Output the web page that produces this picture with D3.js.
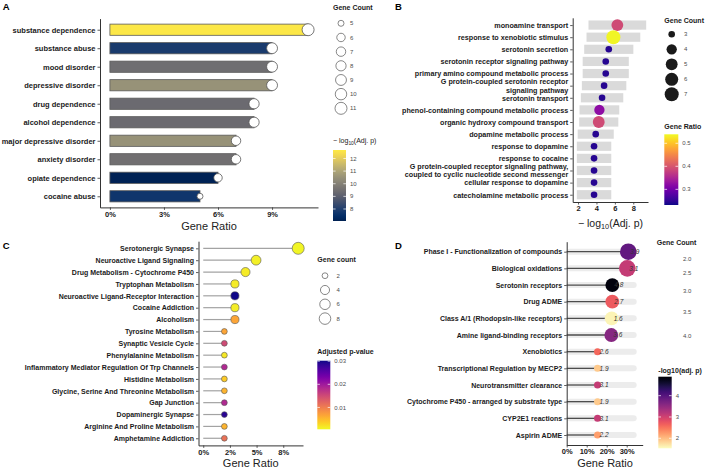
<!DOCTYPE html>
<html>
<head>
<meta charset="utf-8">
<script src="https://cdn.jsdelivr.net/npm/d3@7"></script>
<style>
  body { margin: 0; background: #fff; }
  svg { display: block; font-family: "Liberation Sans", Arial, sans-serif; }
</style>
</head>
<body>
<div id="chart"></div>
<script>
// Panel A - disease enrichment
var aTerms = ["substance dependence", "substance abuse", "mood disorder", "depressive disorder",
  "drug dependence", "alcohol dependence", "major depressive disorder", "anxiety disorder",
  "opiate dependence", "cocaine abuse"];
var aRatio = [0.11, 0.09, 0.09, 0.09, 0.08, 0.08, 0.07, 0.07, 0.06, 0.05];
var aCount = [11, 9, 9, 9, 8, 8, 7, 7, 6, 5];
var aLogP = [12.6, 7.9, 9.45, 10.5, 9.35, 9.35, 10.5, 9.5, 7.1, 7.7];
var aLogPRange = [7.05, 12.67];
var aRatioTicks = [0, 0.03, 0.06, 0.09];
var aCountKeys = [5, 6, 7, 8, 9, 10, 11];
var aLogPTicks = [8, 9, 10, 11, 12];

// Panel B - GO biological process
var bTerms = ["monoamine transport", "response to xenobiotic stimulus", "serotonin secretion",
  "serotonin receptor signaling pathway", "primary amino compound metabolic process",
  "G protein-coupled serotonin receptor\nsignaling pathway", "serotonin transport",
  "phenol-containing compound metabolic process", "organic hydroxy compound transport",
  "dopamine metabolic process", "response to dopamine", "response to cocaine",
  "G protein-coupled receptor signaling pathway,\ncoupled to cyclic nucleotide second messenger",
  "cellular response to dopamine", "catecholamine metabolic process"];
var bLogP = [6.27, 5.84, 5.34, 5.01, 5.01, 4.83, 4.61, 4.32, 4.25, 3.92, 3.74, 3.74, 3.74, 3.74, 3.74];
var bCount = [5, 7, 3, 3, 3, 3, 3, 4, 5, 3, 3, 3, 3, 3, 3];
var bRatio = [0.39, 0.536, 0.245, 0.245, 0.245, 0.245, 0.245, 0.323, 0.39, 0.245, 0.245, 0.245, 0.245, 0.245, 0.245];
var bRatioRange = [0.232, 0.539];
var bLogPTicks = [2, 4, 6, 8];
var bCountKeys = [3, 4, 5, 6, 7];
var bRatioTicks = [0.3, 0.4, 0.5];

// Panel C - KEGG pathways
var cTerms = ["Serotonergic Synapse", "Neuroactive Ligand Signaling", "Drug Metabolism - Cytochrome P450",
  "Tryptophan Metabolism", "Neuroactive Ligand-Receptor Interaction", "Cocaine Addiction", "Alcoholism",
  "Tyrosine Metabolism", "Synaptic Vesicle Cycle", "Phenylalanine Metabolism",
  "Inflammatory Mediator Regulation Of Trp Channels", "Histidine Metabolism",
  "Glycine, Serine And Threonine Metabolism", "Gap Junction", "Dopaminergic Synapse",
  "Arginine And Proline Metabolism", "Amphetamine Addiction"];
var cCount = [9, 5, 4, 3, 3, 3, 3, 2, 2, 2, 2, 2, 2, 2, 2, 2, 2];
var cRatio = [0.089, 0.0495, 0.0396, 0.0297, 0.0297, 0.0297, 0.0297, 0.0198, 0.0198, 0.0198,
  0.0198, 0.0198, 0.0198, 0.0198, 0.0198, 0.0198, 0.0198];
var cPadj = [0.0008, 0.0012, 0.0015, 0.0016, 0.0300, 0.0014, 0.0066, 0.0066, 0.0150, 0.0018,
  0.0185, 0.0037, 0.0055, 0.0185, 0.0288, 0.0055, 0.0110];
var cPRange = [0.00056, 0.0302];
var cRatioTicks = [0, 0.025, 0.05, 0.075];
var cRatioLabels = ["0%", "2%", "5%", "8%"];
var cCountKeys = [2, 4, 6, 8];
var cPTicks = [0.01, 0.02, 0.03];

// Panel D - Reactome pathways
var dTerms = ["Phase I - Functionalization of compounds", "Biological oxidations", "Serotonin receptors",
  "Drug ADME", "Class A/1 (Rhodopsin-like receptors)", "Amine ligand-binding receptors", "Xenobiotics",
  "Transcriptional Regulation by MECP2", "Neurotransmitter clearance",
  "Cytochrome P450 - arranged by substrate type", "CYP2E1 reactions", "Aspirin ADME"];
var dCount = [4, 4, 3, 3, 3, 3, 2, 2, 2, 2, 2, 2];
var dRatio = [0.308, 0.303, 0.228, 0.228, 0.225, 0.223, 0.154, 0.154, 0.154, 0.154, 0.154, 0.154];
var dLogP = [3.9, 3.1, 4.8, 2.7, 1.6, 3.6, 2.6, 1.9, 3.1, 1.9, 3.1, 2.2];
var dLogPRange = [1.53, 4.89];
var dTrack = 0.35;
var dRatioTicks = [0, 0.1, 0.2, 0.3];
var dCountKeys = [2.0, 2.5, 3.0, 3.5, 4.0];
var dLogPTicks = [2, 3, 4];

var svg = d3.select("#chart").append("svg").attr("width", 708).attr("height", 469);
var defs = svg.append("defs");
svg.append("rect").attr("width", 708).attr("height", 469).attr("fill", "#fff");

// ggplot style size scale: radius grows with sqrt of rescaled value
function sizeScale(dom, rng) {
  var t = d3.scaleLinear().domain(dom).range([0, 1]).clamp(true);
  return function(v) { return rng[0] + (rng[1] - rng[0]) * Math.sqrt(t(v)); };
}

function styleAxis(g, size) {
  g.select(".domain").attr("stroke", "#333").attr("stroke-width", 1);
  g.selectAll(".tick line").attr("stroke", "#333").attr("stroke-width", 0.8);
  g.selectAll(".tick text").attr("fill", "#1a1a1a").attr("font-weight", "bold")
    .attr("font-size", size).attr("font-family", null);
}

function splitLabels(g, size) {
  g.selectAll(".tick text").each(function(d) {
    var lines = d.split("\n");
    if (lines.length < 2) return;
    var t = d3.select(this).text(null).attr("dy", null);
    var x = t.attr("x");
    lines.forEach(function(line, i) {
      t.append("tspan").attr("x", x).attr("dy", i === 0 ? "-0.26em" : "1.14em").text(line);
    });
  });
}

function colorbar(id, x, y, w, h, color, domain, ticks, fmt) {
  var grad = defs.append("linearGradient").attr("id", id)
    .attr("x1", 0).attr("y1", 1).attr("x2", 0).attr("y2", 0);
  grad.selectAll("stop").data(d3.range(31)).join("stop")
    .attr("offset", d => d / 30)
    .attr("stop-color", d => color(domain[0] + (domain[1] - domain[0]) * d / 30));
  svg.append("rect").attr("x", x).attr("y", y).attr("width", w).attr("height", h)
    .attr("fill", "url(#" + id + ")");
  var s = d3.scaleLinear().domain(domain).range([y + h, y]);
  var g = svg.append("g");
  g.selectAll("line.tl").data(ticks).join("line")
    .attr("x1", x).attr("x2", x + w * 0.2).attr("y1", d => s(d)).attr("y2", d => s(d))
    .attr("stroke", "#fff").attr("stroke-width", 0.7);
  g.selectAll("line.tr").data(ticks).join("line")
    .attr("x1", x + w * 0.8).attr("x2", x + w).attr("y1", d => s(d)).attr("y2", d => s(d))
    .attr("stroke", "#fff").attr("stroke-width", 0.7);
  g.selectAll("text").data(ticks).join("text")
    .attr("x", x + w + 4).attr("y", d => s(d)).attr("dy", "0.35em")
    .attr("font-size", "6px").attr("fill", "#4d4d4d").text(fmt);
}

function legendTitle(x, y, txt, bold) {
  return svg.append("text").attr("x", x).attr("y", y).attr("font-size", "7px")
    .attr("font-weight", bold ? "bold" : "normal").attr("fill", "#1a1a1a").text(txt);
}

function logTitle(sel, size, pre, post) {
  sel.append("tspan").text(pre + "log");
  sel.append("tspan").attr("font-size", size * 0.7).attr("dy", size * 0.25).text("10");
  sel.append("tspan").attr("dy", -size * 0.25).text(post);
}

function panelLetter(x, y, l) {
  svg.append("text").attr("x", x).attr("y", y).attr("font-size", "9.5px")
    .attr("font-weight", "bold").text(l);
}

// ==============================
// Panel A
// ==============================
var aX = d3.scaleLinear().domain([-0.0055, 0.1155]).range([100, 318]);
var aY = d3.scalePoint().domain(aTerms).range([18.6, 207.4]).padding(0.6);
var aColor = d3.scaleSequential(d3.interpolateCividis).domain(aLogPRange);
var aSize = sizeScale(d3.extent(aCount), [3, 6]);
var gA = svg.append("g");

gA.selectAll("rect").data(aTerms).join("rect")
  .attr("x", aX(0)).attr("y", d => aY(d) - 5.6)
  .attr("width", (d, i) => aX(aRatio[i]) - aX(0)).attr("height", 11.2)
  .attr("fill", (d, i) => aColor(aLogP[i]))
  .attr("stroke", "#5a5a5a").attr("stroke-width", 0.8);

gA.selectAll("circle").data(aTerms).join("circle")
  .attr("cx", (d, i) => aX(aRatio[i])).attr("cy", d => aY(d))
  .attr("r", (d, i) => aSize(aCount[i]))
  .attr("fill", "#fff").attr("stroke", "#555").attr("stroke-width", 0.8);

gA.append("g").attr("transform", "translate(100,0)")
  .call(d3.axisLeft(aY).tickSize(2.5).tickPadding(2).tickSizeOuter(0))
  .call(styleAxis, "7.5px");
gA.append("g").attr("transform", "translate(0,207.4)")
  .call(d3.axisBottom(aX).tickValues(aRatioTicks).tickFormat(d3.format(".0%"))
    .tickSize(2.5).tickPadding(1.5).tickSizeOuter(0))
  .call(styleAxis, "7.5px");
gA.append("text").attr("x", 209).attr("y", 230).attr("text-anchor", "middle")
  .attr("font-size", "11px").attr("fill", "#222").text("Gene Ratio");

legendTitle(333, 9.5, "Gene Count", true);
svg.append("g").selectAll("circle").data(aCountKeys).join("circle")
  .attr("cx", 341).attr("cy", (d, i) => 23.3 + i * 14.17).attr("r", d => aSize(d))
  .attr("fill", "#fff").attr("stroke", "#555").attr("stroke-width", 0.7);
svg.append("g").selectAll("text").data(aCountKeys).join("text")
  .attr("x", 350).attr("y", (d, i) => 23.3 + i * 14.17).attr("dy", "0.35em")
  .attr("font-size", "6px").attr("fill", "#4d4d4d").text(d => d);
logTitle(legendTitle(333, 143, "", false), 7, "\u2212 ", "(Adj. p)");
colorbar("gradA", 333, 150, 13, 71, aColor, aLogPRange, aLogPTicks, d => d);

// ==============================
// Panel B
// ==============================
var bX = d3.scaleLinear().domain([1.42, 9.6]).range([572.7, 648]);
var bY = d3.scalePoint().domain(bTerms).range([17.8, 202]).padding(0.6);
var bColor = d3.scaleSequential(d3.interpolatePlasma).domain(bRatioRange);
var bSize = sizeScale(d3.extent(bCount), [3.3, 7]);
var gB = svg.append("g");

gB.selectAll("rect").data(bTerms).join("rect")
  .attr("x", (d, i) => bX(bLogP[i] * 0.5)).attr("y", d => bY(d) - 4.6)
  .attr("width", (d, i) => bX(bLogP[i] * 1.5) - bX(bLogP[i] * 0.5)).attr("height", 9.2)
  .attr("fill", "#dadada");
gB.selectAll("circle").data(bTerms).join("circle")
  .attr("cx", (d, i) => bX(bLogP[i])).attr("cy", d => bY(d))
  .attr("r", (d, i) => bSize(bCount[i]))
  .attr("fill", (d, i) => bColor(bRatio[i]));

gB.append("g").attr("transform", "translate(572.7,0)")
  .call(d3.axisLeft(bY).tickSize(2.5).tickPadding(2).tickSizeOuter(0))
  .call(styleAxis, "7.2px").call(splitLabels);
gB.append("g").attr("transform", "translate(0,202)")
  .call(d3.axisBottom(bX).tickValues(bLogPTicks).tickSize(2.5).tickPadding(1.5).tickSizeOuter(0))
  .call(styleAxis, "7.5px");
logTitle(gB.append("text").attr("x", 610.5).attr("y", 226.5).attr("text-anchor", "middle")
  .attr("font-size", "10.5px").attr("fill", "#222"), 10.5, "\u2212 ", "(Adj. p)");

legendTitle(664.3, 22.5, "Gene Count", true);
svg.append("g").selectAll("circle").data(bCountKeys).join("circle")
  .attr("cx", 671.7).attr("cy", (d, i) => 34.3 + i * 15).attr("r", d => bSize(d))
  .attr("fill", "#1a1a1a");
svg.append("g").selectAll("text").data(bCountKeys).join("text")
  .attr("x", 684).attr("y", (d, i) => 34.3 + i * 15).attr("dy", "0.35em")
  .attr("font-size", "6px").attr("fill", "#4d4d4d").text(d => d);
legendTitle(664.3, 129.2, "Gene Ratio", true);
colorbar("gradB", 664.3, 134.3, 14, 70.7, bColor, bRatioRange, bRatioTicks, d3.format(".1f"));

// ==============================
// Panel C
// ==============================
var cX = d3.scaleLinear().domain([-0.00445, 0.0935]).range([198.5, 303]);
var cY = d3.scalePoint().domain(cTerms).range([241.2, 445.4]).padding(0.6);
var cColor = d3.scaleSequential(t => d3.interpolatePlasma(1 - t)).domain(cPRange);
var cSize = sizeScale(d3.extent(cCount), [2.9, 6]);
var gC = svg.append("g");

gC.selectAll("line").data(cTerms).join("line")
  .attr("x1", cX(0)).attr("x2", (d, i) => cX(cRatio[i]))
  .attr("y1", d => cY(d)).attr("y2", d => cY(d))
  .attr("stroke", "#a3a3a3").attr("stroke-width", 1.2);
gC.selectAll("circle").data(cTerms).join("circle")
  .attr("cx", (d, i) => cX(cRatio[i])).attr("cy", d => cY(d))
  .attr("r", (d, i) => cSize(cCount[i]))
  .attr("fill", (d, i) => cColor(cPadj[i]))
  .attr("stroke", "#555").attr("stroke-width", 0.6);

gC.append("g").attr("transform", "translate(198.5,0)")
  .call(d3.axisLeft(cY).tickSize(2.5).tickPadding(2).tickSizeOuter(0))
  .call(styleAxis, "7px");
gC.append("g").attr("transform", "translate(0,445.4)")
  .call(d3.axisBottom(cX).tickValues(cRatioTicks).tickFormat((d, i) => cRatioLabels[i])
    .tickSize(2.5).tickPadding(1.5).tickSizeOuter(0))
  .call(styleAxis, "7.5px");
gC.append("text").attr("x", 250.7).attr("y", 467).attr("text-anchor", "middle")
  .attr("font-size", "11px").attr("fill", "#222").text("Gene Ratio");

legendTitle(317.3, 261.8, "Gene count", true);
svg.append("g").selectAll("circle").data(cCountKeys).join("circle")
  .attr("cx", 325).attr("cy", (d, i) => 275.7 + i * 14.3).attr("r", d => cSize(d))
  .attr("fill", "#fff").attr("stroke", "#555").attr("stroke-width", 0.7);
svg.append("g").selectAll("text").data(cCountKeys).join("text")
  .attr("x", 336.5).attr("y", (d, i) => 275.7 + i * 14.3).attr("dy", "0.35em")
  .attr("font-size", "6px").attr("fill", "#4d4d4d").text(d => d);
legendTitle(317.3, 354, "Adjusted p-value", true);
colorbar("gradC", 317.3, 360.7, 13, 68.6, cColor, cPRange, cPTicks, d3.format(".2f"));

// ==============================
// Panel D
// ==============================
var dX = d3.scaleLinear().domain([0, 0.38]).range([566.7, 642.7]);
var dY = d3.scalePoint().domain(dTerms).range([241.7, 445]).padding(0.6);
var dColor = d3.scaleSequential(t => d3.interpolateMagma(1 - t)).domain(dLogPRange);
var dSize = sizeScale(d3.extent(dCount), [3.5, 8.3]);
var gD = svg.append("g");

gD.selectAll("rect").data(dTerms).join("rect")
  .attr("x", dX(0)).attr("y", d => dY(d) - 3).attr("width", dX(dTrack) - dX(0)).attr("height", 6)
  .attr("rx", 3).attr("fill", "#ececec");
gD.selectAll("line").data(dTerms).join("line")
  .attr("x1", dX(0)).attr("x2", (d, i) => dX(dRatio[i]))
  .attr("y1", d => dY(d)).attr("y2", d => dY(d))
  .attr("stroke", "#4d4d4d").attr("stroke-width", 1.3);
gD.selectAll("circle").data(dTerms).join("circle")
  .attr("cx", (d, i) => dX(dRatio[i])).attr("cy", d => dY(d))
  .attr("r", (d, i) => dSize(dCount[i]))
  .attr("fill", (d, i) => dColor(dLogP[i]));
gD.selectAll("text.val").data(dTerms).join("text").attr("class", "val")
  .attr("x", (d, i) => dX(dRatio[i]) + 2).attr("y", d => dY(d)).attr("dy", "0.35em")
  .attr("font-size", "6.5px").attr("font-style", "italic").attr("fill", "#333")
  .text((d, i) => d3.format(".1f")(dLogP[i]));

gD.append("g").attr("transform", "translate(566.7,0)")
  .call(d3.axisLeft(dY).tickSize(2.5).tickPadding(2).tickSizeOuter(0))
  .call(styleAxis, "7px");
gD.append("g").attr("transform", "translate(0,445)")
  .call(d3.axisBottom(dX).tickValues(dRatioTicks).tickFormat(d3.format(".0%"))
    .tickSize(2.5).tickPadding(1.5).tickSizeOuter(0))
  .call(styleAxis, "7.5px");
gD.append("text").attr("x", 605).attr("y", 467).attr("text-anchor", "middle")
  .attr("font-size", "11px").attr("fill", "#222").text("Gene Ratio");

// the size keys of this legend are blank, only the labels show
legendTitle(656.7, 244.5, "Gene Count", true);
var dKeyY = [];
dCountKeys.reduce(function(y, d, i) {
  var h = 2.9 * dSize(d);
  var c = i === 0 ? 259 : y + h / 2;
  dKeyY.push(c);
  return c + h / 2;
}, 0);
svg.append("g").selectAll("text").data(dCountKeys).join("text")
  .attr("x", 683).attr("y", (d, i) => dKeyY[i]).attr("dy", "0.35em")
  .attr("font-size", "6px").attr("fill", "#4d4d4d").text(d3.format(".1f"));
legendTitle(658.3, 372.5, "-log10(adj. p)", true);
colorbar("gradD", 658.3, 376.7, 13.4, 71.6, dColor, dLogPRange, dLogPTicks, d => d);

panelLetter(2.7, 9.5, "A");
panelLetter(395, 9.5, "B");
panelLetter(2.7, 248.5, "C");
panelLetter(395, 248.5, "D");
</script>
</body>
</html>
